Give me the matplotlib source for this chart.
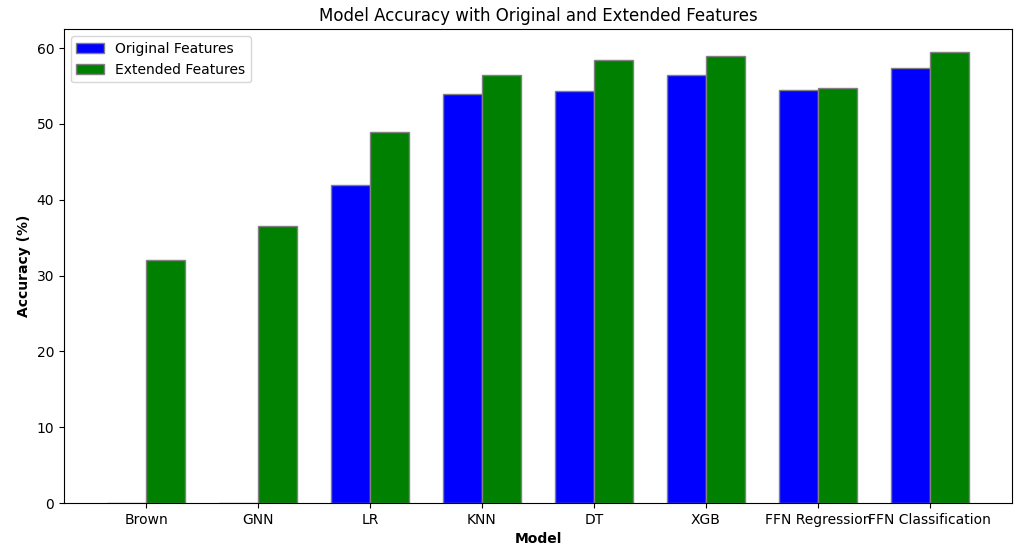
import numpy as np
import matplotlib.pyplot as plt

models = ["Brown", "GNN", "LR", "KNN", "DT", "XGB", "FFN Regression", "FFN Classification"]
original = [0, 0, 42.0, 53.9, 54.4, 56.4, 54.5, 57.4]
extended = [32.0, 36.6, 48.9, 56.4, 58.5, 59.0, 54.8, 59.5]

bar_width = 0.35
r1 = np.arange(len(models))
r2 = r1 + bar_width

fig, ax = plt.subplots(figsize=(10.15, 5.45), dpi=100)
fig.subplots_adjust(left=0.063, right=0.997, top=0.946, bottom=0.077)

ax.bar(r1, original, width=bar_width, color="blue", edgecolor="grey", label="Original Features")
ax.bar(r2, extended, width=bar_width, color="green", edgecolor="grey", label="Extended Features")

ax.set_xlabel("Model", fontweight="bold")
ax.set_ylabel("Accuracy (%)", fontweight="bold")
ax.set_xticks(r1 + bar_width / 2)
ax.set_xticklabels(models)
ax.set_title("Model Accuracy with Original and Extended Features", fontsize=12)
ax.legend(loc="upper left")

fig.savefig("out.png")
